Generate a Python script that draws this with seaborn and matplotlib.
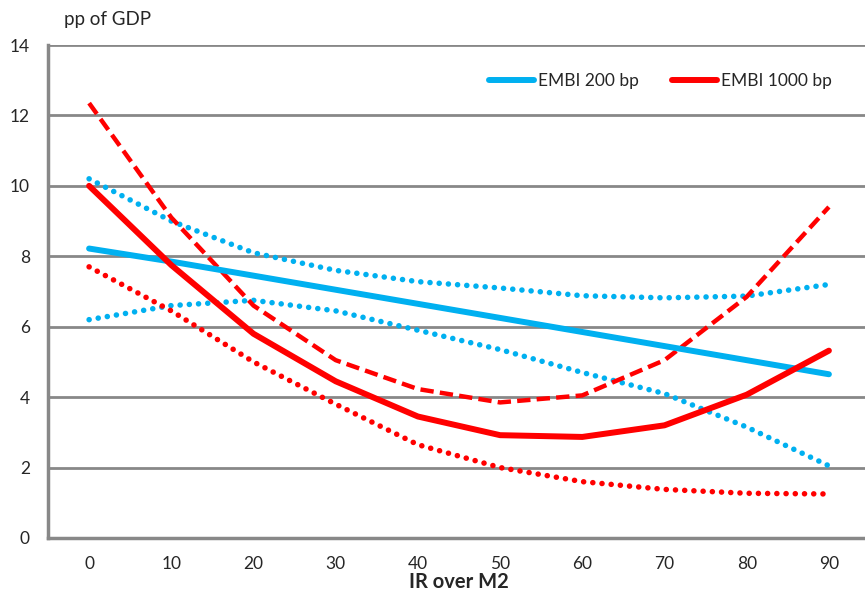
import numpy as np
import pandas as pd
import seaborn as sns
import matplotlib.pyplot as plt

# categories on the x axis (IR over M2)
ir_m2 = [0, 10, 20, 30, 40, 50, 60, 70, 80, 90]

# EMBI 200 bp: central estimate and band
embi200 = [8.22, 7.85, 7.45, 7.05, 6.65, 6.25, 5.85, 5.45, 5.05, 4.65]
embi200_hi = [10.2, 9.0, 8.1, 7.6, 7.28, 7.1, 6.88, 6.82, 6.87, 7.2]
embi200_lo = [6.2, 6.6, 6.75, 6.45, 5.9, 5.35, 4.7, 4.1, 3.15, 2.05]

# EMBI 1000 bp: central estimate and band
embi1000 = [10.0, 7.75, 5.8, 4.45, 3.45, 2.92, 2.87, 3.2, 4.07, 5.32]
embi1000_hi = [12.35, 9.1, 6.6, 5.05, 4.23, 3.85, 4.05, 5.05, 6.85, 9.4]
embi1000_lo = [7.7, 6.45, 5.0, 3.8, 2.65, 2.0, 1.6, 1.38, 1.27, 1.25]

yticks = [0, 2, 4, 6, 8, 10, 12, 14]

blue = "#00B0F0"
red = "#FF0000"
grey = "#888888"

sns.set_style("white")
plt.rcParams['font.family'] = ['Lato', 'DejaVu Sans']

fig = plt.figure(figsize=(8.65, 6.05), dpi=100)
ax = fig.add_axes([48 / 865, 1 - 538 / 605, 822 / 865, 493 / 605])

pos = np.arange(len(ir_m2))

dot = (0, (0.01, 1.65))
dash = (0, (3.0, 1.4))

# bands first, then central lines on top
sns.lineplot(x=pos, y=embi200_hi, ax=ax, color=blue, lw=4.0, linestyle=dot,
             dash_capstyle='round', legend=False)
sns.lineplot(x=pos, y=embi200_lo, ax=ax, color=blue, lw=4.0, linestyle=dot,
             dash_capstyle='round', legend=False)
sns.lineplot(x=pos, y=embi1000_hi, ax=ax, color=red, lw=3.2, linestyle=dash,
             legend=False)
sns.lineplot(x=pos, y=embi1000_lo, ax=ax, color=red, lw=4.0, linestyle=dot,
             dash_capstyle='round', legend=False)
sns.lineplot(x=pos, y=embi200, ax=ax, color=blue, lw=4.3, label="EMBI 200 bp",
             solid_capstyle='round')
sns.lineplot(x=pos, y=embi1000, ax=ax, color=red, lw=4.3, label="EMBI 1000 bp",
             solid_capstyle='round')

ax.set_xlim(-0.5, len(ir_m2) - 0.5)
ax.set_ylim(0, 14)
ax.set_yticks(yticks)
ax.set_yticklabels([str(v) for v in yticks], fontsize=12.5)

# category labels in the middle, tick marks on the boundaries
ax.set_xticks(pos)
ax.set_xticklabels([str(v) for v in ir_m2], fontsize=12.5)
ax.set_xticks(np.arange(-0.5, len(ir_m2), 1), minor=True)
ax.tick_params(axis='x', which='major', length=0, pad=13)
ax.tick_params(axis='x', which='minor', length=7, width=2, color=grey, direction='out')
ax.tick_params(axis='y', length=7, width=2, color=grey, direction='out', pad=6)

ax.yaxis.grid(True, color=grey, lw=2)
ax.set_axisbelow(True)
for side in ['top', 'right']:
    ax.spines[side].set_visible(False)
for side in ['left', 'bottom']:
    ax.spines[side].set_color(grey)
    ax.spines[side].set_linewidth(2.5)

ax.set_xlabel("IR over M2", fontsize=14.5, fontweight='bold', labelpad=0)
ax.set_ylabel("")
fig.text(64 / 865, 1 - 20 / 605, "pp of GDP", fontsize=13.5, va='center', ha='left')

ax.legend(loc='upper right', bbox_to_anchor=(800 / 822, 0.975), ncol=2, frameon=False,
          fontsize=12.5, handlelength=2.6, handletextpad=0.25, columnspacing=1.9)

fig.savefig("out.png", dpi=100)
